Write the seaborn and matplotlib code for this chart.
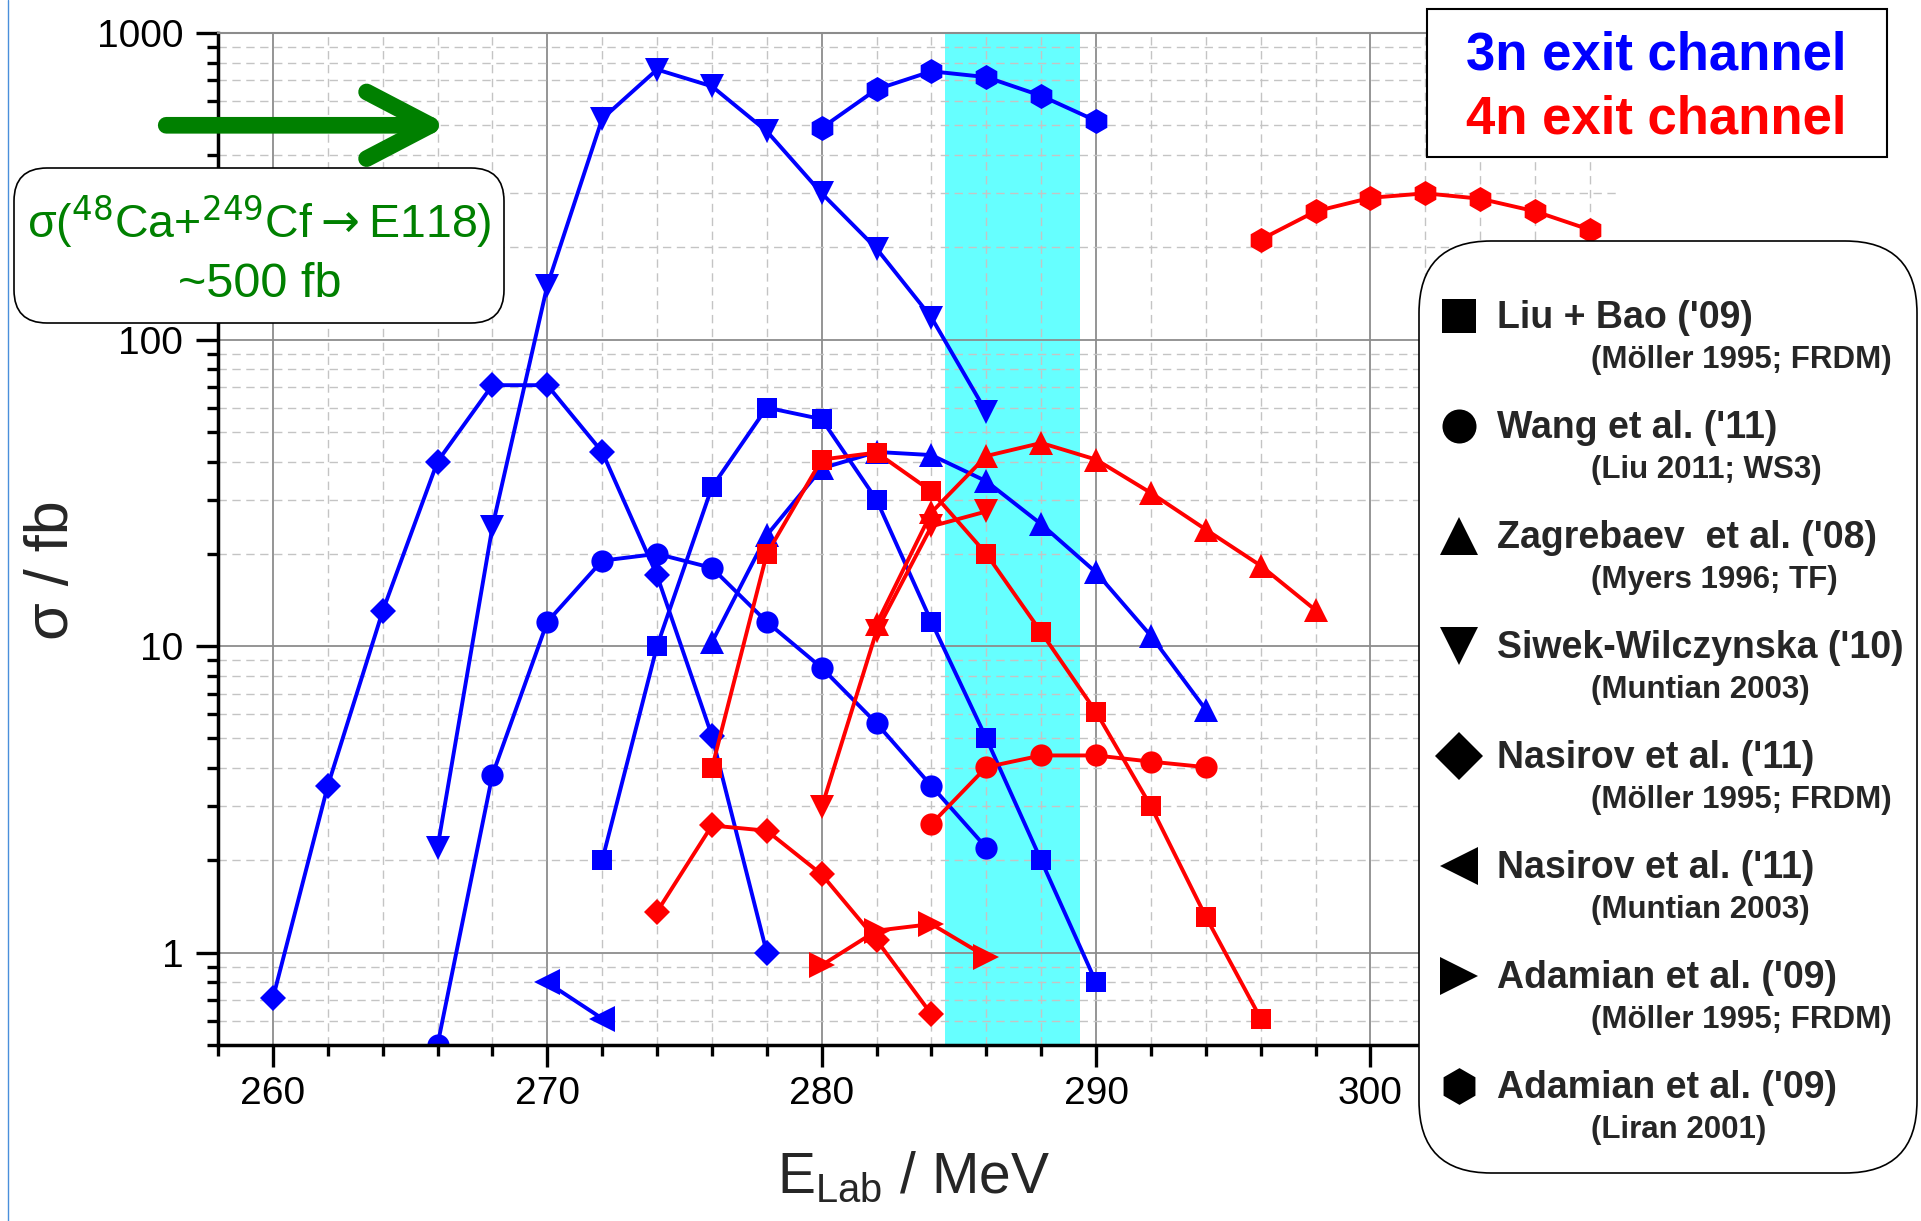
import matplotlib
matplotlib.use('Agg')
import matplotlib.pyplot as plt
import seaborn as sns
from matplotlib.patches import FancyBboxPatch, Rectangle
from matplotlib.lines import Line2D
from matplotlib.ticker import MultipleLocator, LogLocator, NullFormatter, FuncFormatter

# ---- data: E_lab (MeV) vs sigma (fb) ----
# 3n exit channel (blue)
e_liu3 = [272, 274, 276, 278, 280, 282, 284, 286, 288, 290]
s_liu3 = [2.0, 10, 33, 60, 55, 30, 12, 5.0, 2.0, 0.8]
e_wang3 = [266, 268, 270, 272, 274, 276, 278, 280, 282, 284, 286]
s_wang3 = [0.5, 3.8, 12, 19, 20, 18, 12, 8.5, 5.6, 3.5, 2.2]
e_zag3 = [276, 278, 280, 282, 284, 286, 288, 290, 292, 294]
s_zag3 = [10.3, 23, 38, 43, 42, 34.5, 25, 17.4, 10.8, 6.2]
e_siw3 = [266, 268, 270, 272, 274, 276, 278, 280, 282, 284, 286]
s_siw3 = [2.2, 24.5, 150, 525, 760, 670, 478, 300, 198, 118, 58]
e_nasF3 = [260, 262, 264, 266, 268, 270, 272, 274, 276, 278]
s_nasF3 = [0.71, 3.5, 13, 40, 71, 71, 43, 17, 5.1, 1.0]
e_nasM3 = [270, 272]
s_nasM3 = [0.8, 0.61]
e_adaL3 = [280, 282, 284, 286, 288, 290]
s_adaL3 = [490, 655, 750, 718, 624, 517]

# 4n exit channel (red)
e_liu4 = [276, 278, 280, 282, 284, 286, 288, 290, 292, 294, 296]
s_liu4 = [4.0, 20, 40.6, 42.8, 32, 20, 11.1, 6.1, 3.0, 1.31, 0.61]
e_wang4 = [284, 286, 288, 290, 292, 294]
s_wang4 = [2.63, 4.03, 4.4, 4.4, 4.2, 4.03]
e_zag4 = [282, 284, 286, 288, 290, 292, 294, 296, 298]
s_zag4 = [11.8, 27.3, 41.7, 46, 40.6, 31.6, 24, 18.3, 13.1]
e_siw4 = [280, 282, 284, 286]
s_siw4 = [2.98, 11.2, 24.6, 27.5]
e_nasF4 = [274, 276, 278, 280, 282, 284]
s_nasF4 = [1.36, 2.6, 2.5, 1.8, 1.1, 0.63]
e_adaF4 = [280, 282, 284, 286]
s_adaF4 = [0.91, 1.18, 1.24, 0.97]
e_adaL4 = [296, 298, 300, 302, 304, 306, 308]
s_adaL4 = [212, 262, 290, 300, 288, 262, 228]

legend_main = ["Liu + Bao ('09)", "Wang et al. ('11)", "Zagrebaev  et al. ('08)",
               "Siwek-Wilczynska ('10)", "Nasirov et al. ('11)", "Nasirov et al. ('11)",
               "Adamian et al. ('09)", "Adamian et al. ('09)"]
legend_sub = ["(Möller 1995; FRDM)", "(Liu 2011; WS3)", "(Myers 1996; TF)",
              "(Muntian 2003)", "(Möller 1995; FRDM)", "(Muntian 2003)",
              "(Möller 1995; FRDM)", "(Liran 2001)"]
legend_marker = ['s', 'o', '^', 'v', 'D', '<', '>', 'h']
legend_ms = [24.5, 24.5, 28, 28, 24, 27, 27, 26.5]

BLUE, RED, GREEN = '#0000ff', '#ff0000', '#008000'

sns.set_style('ticks')
plt.rcParams['font.family'] = ['Liberation Sans', 'DejaVu Sans']
plt.rcParams['mathtext.fontset'] = 'custom'
plt.rcParams['mathtext.rm'] = 'Liberation Sans'
plt.rcParams['mathtext.it'] = 'Liberation Sans:italic'
plt.rcParams['mathtext.bf'] = 'Liberation Sans:bold'

W, H = 1921, 1221
PX = 27.44  # pixels per MeV
fig = plt.figure(figsize=(W / 100, H / 100), dpi=100)
ax = fig.add_axes([218 / W, 176 / H, 51 * PX / W, 1012 / H])

def fy(py):
    return 1 - py / H

ax.set_yscale('log')
ax.set_xlim(258, 309)
ax.set_ylim(0.5, 1000)

# highlighted energy window
ax.axvspan(284.5, 289.4, color='#66ffff', lw=0, zorder=0.3)

series = [
    (e_nasF3, s_nasF3, 'D', 13.5, BLUE),
    (e_wang3, s_wang3, 'o', 16, BLUE),
    (e_liu3, s_liu3, 's', 14.5, BLUE),
    (e_siw3, s_siw3, 'v', 17.5, BLUE),
    (e_zag3, s_zag3, '^', 17.5, BLUE),
    (e_nasM3, s_nasM3, '<', 19, BLUE),
    (e_adaL3, s_adaL3, 'h', 18, BLUE),
    (e_liu4, s_liu4, 's', 14.5, RED),
    (e_wang4, s_wang4, 'o', 16, RED),
    (e_zag4, s_zag4, '^', 17.5, RED),
    (e_siw4, s_siw4, 'v', 17.5, RED),
    (e_nasF4, s_nasF4, 'D', 13.5, RED),
    (e_adaF4, s_adaF4, '>', 19, RED),
    (e_adaL4, s_adaL4, 'h', 18, RED),
]
for e, s, m, ms, c in series:
    sns.lineplot(x=e, y=s, ax=ax, color=c, linewidth=2.8, marker=m,
                 markersize=ms, markeredgewidth=0, markeredgecolor=c,
                 errorbar=None, sort=False)

# axes styling
ax.set_axisbelow(True)
ax.xaxis.set_major_locator(MultipleLocator(10))
ax.xaxis.set_minor_locator(MultipleLocator(2))
ax.yaxis.set_major_locator(LogLocator(base=10))
ax.yaxis.set_minor_locator(LogLocator(base=10, subs=range(2, 10)))
ax.yaxis.set_major_formatter(FuncFormatter(lambda v, p: f'{v:g}'))
ax.yaxis.set_minor_formatter(NullFormatter())
ax.grid(which='major', color='#8c8c8c', lw=1.3, ls='-')
ax.grid(which='minor', color='#c4c4c4', lw=1.0, ls=(0, (6, 4)))
ax.tick_params(which='major', length=16, width=2.4, color='black',
               labelsize=28, labelcolor='black')
ax.tick_params(which='minor', length=8, width=2.4, color='black')
ax.tick_params(axis='x', which='major', pad=6)
ax.tick_params(axis='y', which='major', pad=9)
for side in ['left', 'bottom']:
    ax.spines[side].set_color('black')
    ax.spines[side].set_linewidth(2.5)
ax.spines['top'].set_color('#8c8c8c')
ax.spines['top'].set_linewidth(1.5)
ax.spines['right'].set_visible(False)

ax.set_ylabel('σ / fb', fontsize=44)
ax.yaxis.set_label_coords(-0.098, 0.469)
ax.set_xlabel(r'E$_{\mathrm{Lab}}$ / MeV', fontsize=41)
ax.xaxis.set_label_coords(0.497, -0.104)

# green arrow at ~500 fb
ax.annotate('', xy=(266.4, 500), xytext=(-0.037, 500),
            textcoords=('axes fraction', 'data'), annotation_clip=False,
            arrowprops=dict(arrowstyle='->,head_length=46,head_width=24',
                            color=GREEN, lw=12, mutation_scale=1,
                            shrinkA=0, shrinkB=0, capstyle='round',
                            joinstyle='round'))

# annotation box
fig.add_artist(FancyBboxPatch((0.14, 8.98), 4.9, 1.55,
                              boxstyle='round,pad=0,rounding_size=0.33',
                              transform=fig.dpi_scale_trans, fc='white',
                              ec='black', lw=1.2))
fig.text(259 / W, fy(237), r'σ($^{48}$Ca+$^{249}$Cf$\rightarrow$E118)',
         color=GREEN, fontsize=33.5, ha='center', va='baseline',
         math_fontfamily='dejavusans')
fig.text(260 / W, fy(297), '~500 fb', color=GREEN, fontsize=35,
         ha='center', va='baseline')

# exit channel box
fig.add_artist(Rectangle((1427 / W, fy(157)), 460 / W, 148 / H,
                         transform=fig.transFigure, fc='white', ec='black', lw=1.5))
fig.text(1656 / W, fy(70), '3n exit channel', color=BLUE, fontsize=38,
         fontweight='bold', ha='center', va='baseline')
fig.text(1656 / W, fy(133), '4n exit channel', color=RED, fontsize=38,
         fontweight='bold', ha='center', va='baseline')

# model legend
fig.add_artist(FancyBboxPatch((14.19, 0.48), 4.98, 9.32,
                              boxstyle='round,pad=0,rounding_size=0.72',
                              transform=fig.dpi_scale_trans, fc='white',
                              ec='black', lw=1.2))
for i, (main, sub, m, ms) in enumerate(zip(legend_main, legend_sub,
                                           legend_marker, legend_ms)):
    base = 328 + 110 * i
    fig.add_artist(Line2D([1459 / W], [fy(base - 12)], marker=m, markersize=ms,
                          color='black', markeredgewidth=0, ls='none',
                          transform=fig.transFigure))
    fig.text(1497 / W, fy(base), main, fontsize=27, fontweight='bold',
             ha='left', va='baseline')
    fig.text(1591 / W, fy(base + 40), sub, fontsize=22.5, fontweight='bold',
             ha='left', va='baseline')

# thin slide border on the left
fig.add_artist(Line2D([8 / W, 8 / W], [0, 1], color='#4a8fdb', lw=1,
                      transform=fig.transFigure))

fig.savefig('out.png', dpi=100)
